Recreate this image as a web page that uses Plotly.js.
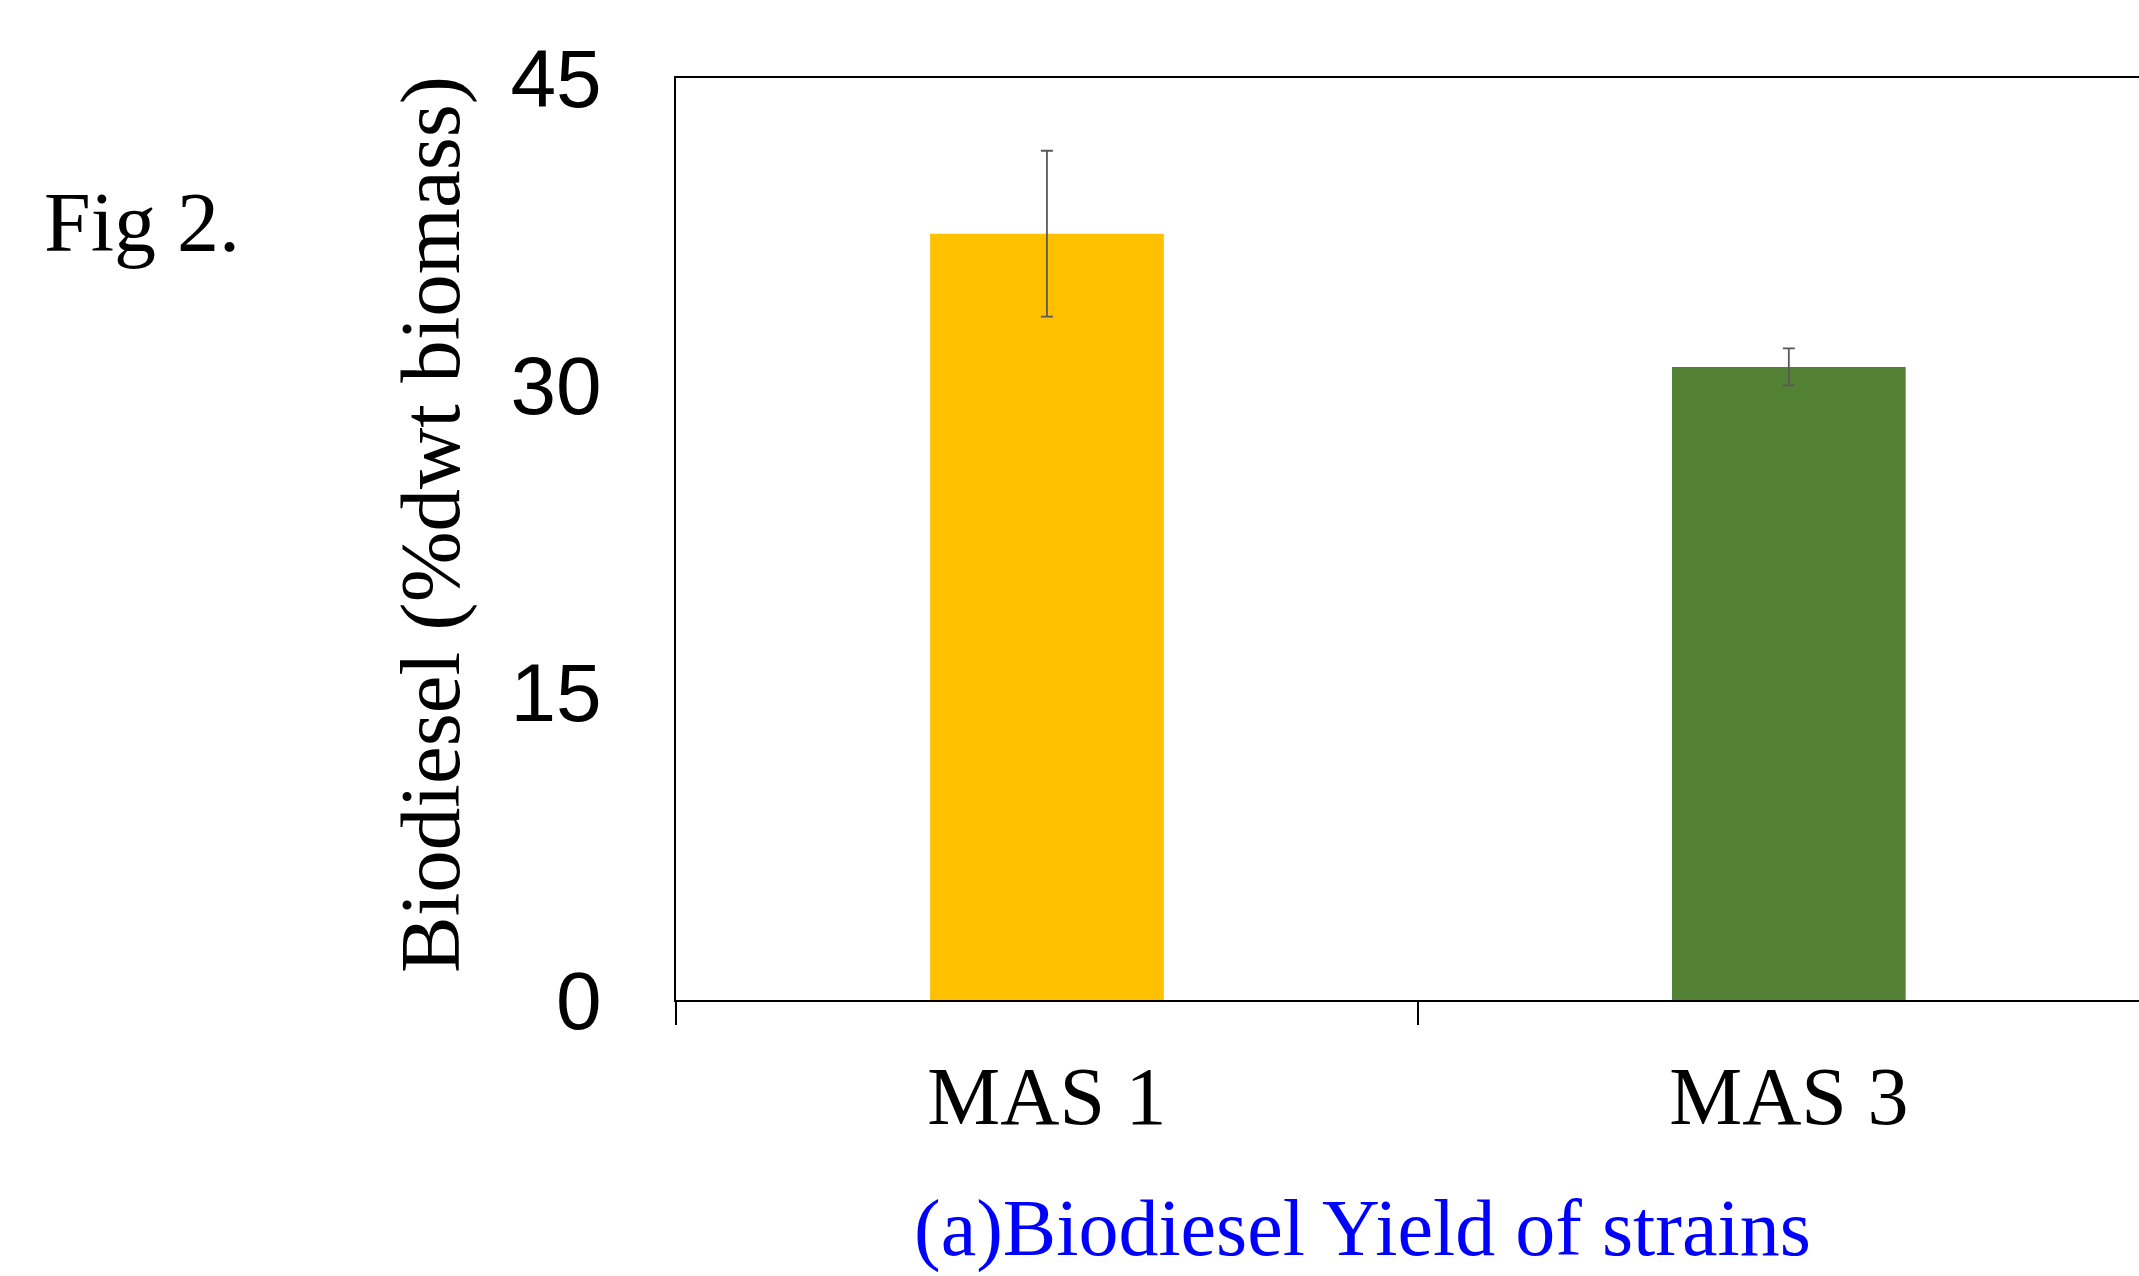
<!DOCTYPE html>
<html>
<head>
<meta charset="utf-8">
<script src="https://cdn.plot.ly/plotly-3.0.1.min.js"></script>
<style>
  html, body { margin: 0; padding: 0; background: #ffffff; }
  #chart { width: 2139px; height: 1276px; }
</style>
</head>
<body>
<div id="chart"></div>
<script>
const categories = ['MAS 1', 'MAS 3'];
const biodieselYield = [37.4, 30.9];
const yieldError = [4.05, 0.9];
const barColors = ['#FFC000', '#548235'];
const yTickValues = [0, 15, 30, 45];
const yTickLabels = ['0', '15', '30', '45'];

const serif = 'Liberation Serif, Times New Roman, serif';
const sans = 'Liberation Sans, Arial, sans-serif';

const trace = {
  type: 'bar',
  x: categories,
  y: biodieselYield,
  width: 0.315,
  marker: { color: barColors, line: { width: 0 } },
  error_y: {
    type: 'data',
    array: yieldError,
    visible: true,
    color: '#595959',
    thickness: 1.8,
    width: 6
  },
  hoverinfo: 'x+y'
};

const layout = {
  width: 2139,
  height: 1276,
  margin: { l: 676, r: 0, t: 78, b: 276, pad: 0 },
  paper_bgcolor: '#ffffff',
  plot_bgcolor: '#ffffff',
  showlegend: false,
  xaxis: {
    type: 'category',
    range: [-0.5, 1.472],
    showline: true,
    linecolor: '#000000',
    linewidth: 2,
    mirror: true,
    ticks: 'outside',
    tickson: 'boundaries',
    ticklen: 23,
    tickwidth: 2,
    tickcolor: '#000000',
    showgrid: false,
    zeroline: false,
    tickfont: { family: serif, size: 82, color: '#000000' },
    ticklabelstandoff: 24
  },
  yaxis: {
    range: [0, 45],
    showline: true,
    linecolor: '#000000',
    linewidth: 2,
    mirror: false,
    ticks: '',
    tickvals: yTickValues,
    ticktext: yTickLabels,
    showgrid: false,
    zeroline: false,
    tickfont: { family: sans, size: 82, color: '#000000' },
    ticklabelstandoff: 56
  },
  annotations: [
    {
      text: 'Biodiesel (%dwt biomass)',
      xref: 'paper', yref: 'paper',
      x: (430 - 676) / 1463, y: (1000 - 525) / 922,
      xanchor: 'center', yanchor: 'middle',
      textangle: -90,
      showarrow: false,
      font: { family: serif, size: 85, color: '#000000' }
    },
    {
      text: '(a)Biodiesel Yield of strains',
      xref: 'paper', yref: 'paper',
      x: (1362 - 676) / 1463, y: (1000 - 1274) / 922,
      xanchor: 'center', yanchor: 'bottom',
      borderpad: 0,
      showarrow: false,
      font: { family: serif, size: 80, color: '#0000FF' }
    },
    {
      text: 'Fig 2.',
      xref: 'paper', yref: 'paper',
      x: (42 - 676) / 1463, y: (1000 - 222) / 922,
      xanchor: 'left', yanchor: 'middle',
      showarrow: false,
      font: { family: serif, size: 84, color: '#000000' }
    }
  ]
};

Plotly.newPlot('chart', [trace], layout, { displayModeBar: false, staticPlot: true });
</script>
</body>
</html>
